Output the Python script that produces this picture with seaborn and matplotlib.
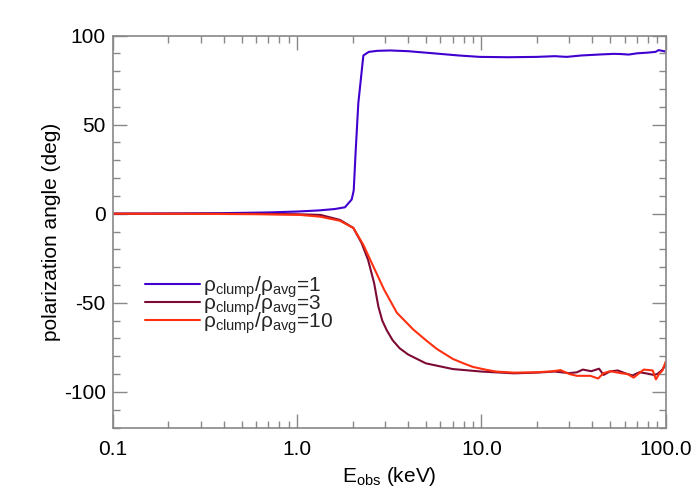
import numpy as np
import pandas as pd
import seaborn as sns
import matplotlib.pyplot as plt
from matplotlib.ticker import FixedLocator, FixedFormatter, MultipleLocator, LogLocator, NullFormatter

# Energies (keV) and polarization angle (deg)
e_1 = [0.1, 0.2, 0.4, 0.7, 1.0, 1.3, 1.6, 1.82, 1.98, 2.03, 2.08, 2.15, 2.29, 2.45, 2.73, 3.2,
       4.0, 5.5, 7.5, 9.8, 14.0, 20.0, 25.0, 29.0, 35.0, 45.0, 52.4, 57.0, 62.9, 70.0, 80.0, 88.0, 91.6, 100.0]
ang_1 = [0.0, 0.1, 0.3, 0.7, 1.2, 1.8, 2.6, 3.6, 8.0, 13.0, 35.0, 62.0, 88.8, 90.8, 91.4, 91.6,
         91.2, 90.0, 88.8, 88.0, 87.8, 88.0, 88.4, 88.0, 88.8, 89.4, 89.7, 89.6, 89.3, 90.0, 90.4, 90.8, 91.8, 91.0]

e_3 = [0.1, 0.3, 0.6, 1.0, 1.34, 1.71, 2.02, 2.24, 2.43, 2.62, 2.76, 2.9, 3.07, 3.3, 3.6, 4.0, 5.0, 7.0, 10.0,
       15.0, 20.0, 25.0, 30.0, 33.0, 35.5, 39.5, 43.5, 46.0, 50.0, 55.0, 60.0, 66.0, 72.0, 80.0, 86.0, 90.0, 95.0, 100.0]
ang_3 = [0.0, 0.0, -0.1, -0.3, -0.7, -3.5, -8.0, -16.5, -26.0, -39.0, -52.0, -60.0, -65.5, -71.0, -75.5, -79.0, -84.0, -87.2, -88.6,
         -89.6, -89.2, -88.6, -89.5, -89.0, -87.5, -88.4, -87.0, -90.5, -88.5, -88.0, -89.5, -90.8, -89.0, -89.8, -90.5, -90.0, -88.0, -85.0]

e_10 = [0.1, 0.3, 0.6, 1.04, 1.34, 1.71, 2.02, 2.29, 2.54, 2.97, 3.48, 4.27, 5.0, 5.75, 7.0, 8.0, 9.0, 10.5,
        12.0, 15.0, 20.0, 24.0, 26.9, 30.0, 33.0, 39.0, 43.0, 46.0, 50.0, 57.0, 62.0, 67.0, 76.0, 82.0, 85.0, 88.5, 92.0, 96.0, 100.0]
ang_10 = [0.0, -0.1, -0.3, -0.7, -1.7, -4.0, -8.0, -17.5, -27.6, -42.7, -55.6, -65.0, -71.0, -76.0, -81.5, -84.0, -86.0, -87.5,
          -88.6, -89.2, -89.0, -88.5, -87.8, -90.0, -91.0, -91.0, -92.5, -89.5, -88.4, -89.5, -90.0, -92.0, -87.5, -87.8, -88.0, -93.0, -90.0, -88.0, -83.0]

labels = ['ρ$_{\\mathrm{clump}}$/ρ$_{\\mathrm{avg}}$=1',
          'ρ$_{\\mathrm{clump}}$/ρ$_{\\mathrm{avg}}$=3',
          'ρ$_{\\mathrm{clump}}$/ρ$_{\\mathrm{avg}}$=10']
colors = ['#4000d0', '#7d0a35', '#ff3010']

df = pd.concat([
    pd.DataFrame({'E': e_1, 'angle': ang_1, 'model': labels[0]}),
    pd.DataFrame({'E': e_3, 'angle': ang_3, 'model': labels[1]}),
    pd.DataFrame({'E': e_10, 'angle': ang_10, 'model': labels[2]}),
])

sns.set_style('ticks')
plt.rcParams['font.family'] = ['Liberation Sans', 'DejaVu Sans']
plt.rcParams['mathtext.fontset'] = 'custom'
plt.rcParams['mathtext.rm'] = 'Liberation Sans'
plt.rcParams['mathtext.it'] = 'Liberation Sans:italic'
plt.rcParams['axes.unicode_minus'] = False

fig, ax = plt.subplots(figsize=(7, 5), dpi=100)
fig.subplots_adjust(left=0.161, right=0.951, top=0.929, bottom=0.145)

sns.lineplot(data=df, x='E', y='angle', hue='model', palette=colors, linewidth=1.5,
             sort=False, estimator=None, ax=ax)

ax.set_xscale('log')
ax.set_xlim(0.1, 100)
ax.set_ylim(-120, 100)

ax.xaxis.set_major_locator(FixedLocator([0.1, 1, 10, 100]))
ax.xaxis.set_major_formatter(FixedFormatter(['0.1', '1.0', '10.0', '100.0']))
ax.xaxis.set_minor_locator(LogLocator(base=10, subs=np.arange(2, 10)))
ax.xaxis.set_minor_formatter(NullFormatter())
ax.yaxis.set_major_locator(MultipleLocator(50))
ax.yaxis.set_minor_locator(MultipleLocator(10))

frame = '#888888'
for s in ax.spines.values():
    s.set_color(frame)
    s.set_linewidth(1.2)
ax.tick_params(which='both', direction='in', top=True, right=True, color=frame,
               labelcolor='black', labelsize=15)
ax.tick_params(axis='x', pad=9)
ax.tick_params(axis='y', pad=5)
ax.tick_params(which='major', length=10, width=1)
ax.tick_params(which='minor', length=5, width=1)

ax.set_xlabel(r'E$_{\mathrm{obs}}$ (keV)', fontsize=15, labelpad=4, color='black')
ax.set_ylabel('polarization angle (deg)', fontsize=15, labelpad=2, color='black')

leg = ax.legend(loc='upper left', bbox_to_anchor=(0.04, 0.418), frameon=False, fontsize=15,
                handlelength=2.65, handletextpad=0.1, labelspacing=-0.35, borderpad=0)

fig.savefig('out.png', dpi=100)
